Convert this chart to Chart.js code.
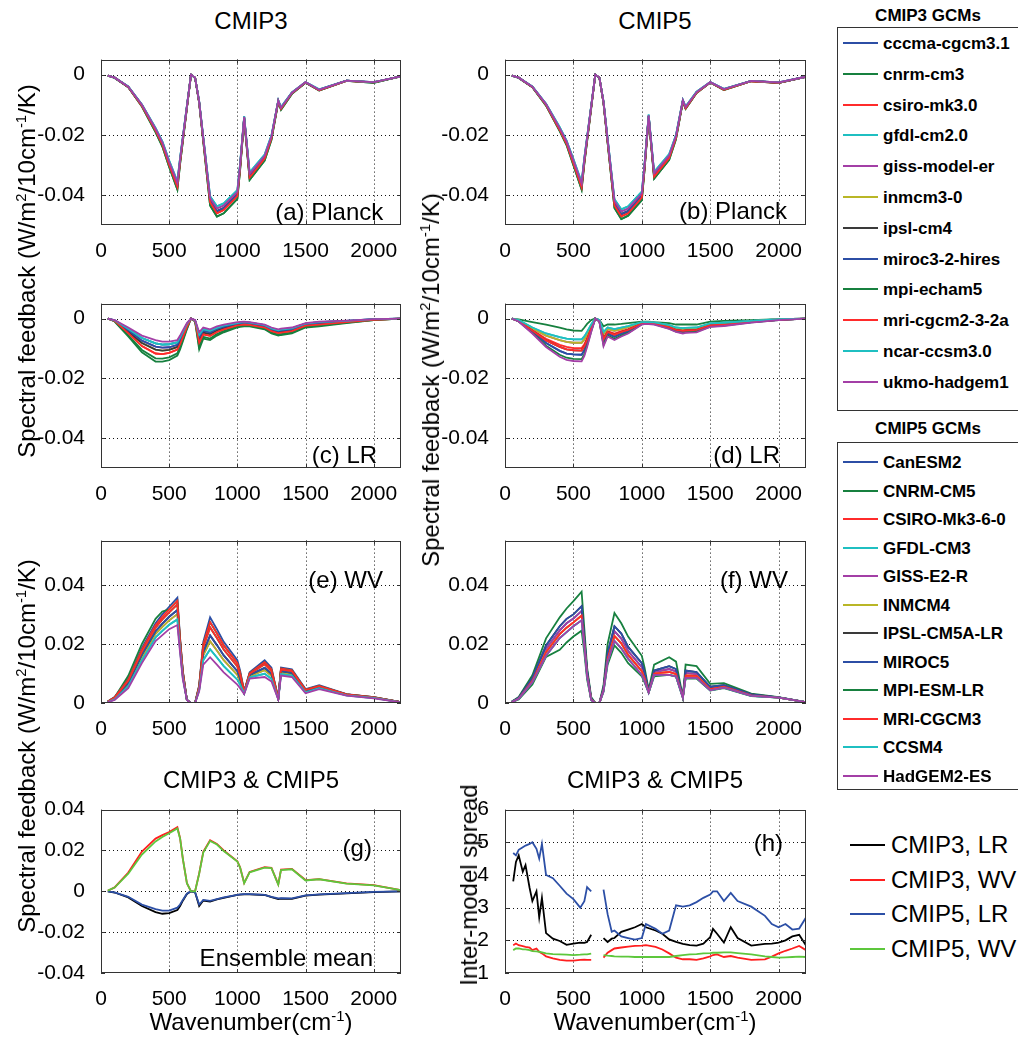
<!DOCTYPE html>
<html>
<head>
<meta charset="utf-8">
<script src="https://cdn.jsdelivr.net/npm/chart.js@4.4.0/dist/chart.umd.min.js"></script>
<style>
  body { margin: 0; background: #fff; }
  #fig { position: relative; width: 1018px; height: 1042px; overflow: hidden;
         font-family: "Liberation Sans", Arial, Helvetica, sans-serif; color: #000; }
  .txt { position: absolute; white-space: nowrap; transform: translate(-50%, -50%); font-size: 24px; line-height: 1; }
  .vt  { transform: translate(-50%, -50%) rotate(-90deg); }
  sup  { font-size: 62%; line-height: 0; vertical-align: 0.6em; }
  .box { position: absolute; border: 1px solid #333; background: #fff; }
  .lgl { position: absolute; height: 2px; }
  .lgt { position: absolute; white-space: nowrap; transform: translateY(-50%); line-height: 1; }
  .gcm { font-size: 17px; font-weight: bold; }
</style>
</head>
<body>
<div id="fig"></div>
<script>
'use strict';

/* ---------- data ---------- */

const wn = [50, 100, 200, 300, 400, 450, 500, 560, 580, 600, 630, 660, 690, 720, 750, 800,
            850, 900, 1000, 1020, 1050, 1090, 1200, 1250, 1300, 1320, 1400, 1500, 1600, 1800, 2000, 2200];

const xTicks = [0, 500, 1000, 1500, 2000];
const yTicksNeg = [-0.04, -0.02, 0];
const yTicksWv = [0, 0.02, 0.04];
const yTicksMean = [-0.04, -0.02, 0, 0.02, 0.04];
const yTicksSpread = [1, 2, 3, 4, 5, 6];

const cmip3Names = ['cccma-cgcm3.1', 'cnrm-cm3', 'csiro-mk3.0', 'gfdl-cm2.0', 'giss-model-er', 'inmcm3-0',
                    'ipsl-cm4', 'miroc3-2-hires', 'mpi-echam5', 'mri-cgcm2-3-2a', 'ncar-ccsm3.0', 'ukmo-hadgem1'];
const cmip5Names = ['CanESM2', 'CNRM-CM5', 'CSIRO-Mk3-6-0', 'GFDL-CM3', 'GISS-E2-R', 'INMCM4',
                    'IPSL-CM5A-LR', 'MIROC5', 'MPI-ESM-LR', 'MRI-CGCM3', 'CCSM4', 'HadGEM2-ES'];
const gcmColors = ['#2c4ea5', '#17803f', '#ff2b2b', '#1fbfc1', '#a33fa6', '#b9b626',
                   '#3a3a3a', '#2c4ea5', '#17803f', '#ff2b2b', '#1fbfc1', '#a33fa6'];

// (a) CMIP3 Planck
const pl3Top  = [-.0003,-.001,-.004,-.010,-.018,-.0225,-.029,-.036,-.028,-.021,-.0105,0,-.001,-.009,-.021,-.041,-.0445,-.0435,-.039,-.030,-.014,-.033,-.027,-.0205,-.0086,-.011,-.006,-.0025,-.005,-.002,-.0025,-.0006];
const pl3Cyan = [-.0003,-.001,-.0039,-.0099,-.0177,-.0222,-.0286,-.0355,-.0276,-.0207,-.0103,0,-.001,-.0089,-.0207,-.0404,-.0438,-.0428,-.0384,-.0296,-.0138,-.0325,-.0266,-.0202,-.0085,-.0108,-.0059,-.0025,-.0049,-.002,-.0025,-.0006];
const pl3Mid  = [-.0003,-.001,-.0041,-.0102,-.0184,-.023,-.0296,-.0367,-.0286,-.0214,-.0107,0,-.001,-.0092,-.0214,-.0418,-.0454,-.0444,-.0398,-.0306,-.0143,-.0337,-.0275,-.0209,-.0088,-.0112,-.0061,-.0026,-.0051,-.002,-.0026,-.0006];
const pl3Red  = [-.0003,-.001,-.0041,-.0104,-.0186,-.0233,-.030,-.0373,-.029,-.0217,-.0109,0,-.001,-.0093,-.0217,-.0424,-.0461,-.045,-.0404,-.0311,-.0145,-.0342,-.0279,-.0212,-.0089,-.0114,-.0062,-.0026,-.0052,-.0021,-.0026,-.0006];
const pl3Low  = [-.0003,-.0011,-.0042,-.0106,-.0191,-.0239,-.0307,-.0382,-.0297,-.0223,-.0111,0,-.0011,-.0095,-.0223,-.0435,-.0472,-.0461,-.0413,-.0318,-.0148,-.035,-.0286,-.0217,-.0091,-.0117,-.0064,-.0027,-.0053,-.0021,-.0027,-.0006];
const planck3 = [pl3Mid, pl3Low, pl3Red, pl3Cyan, pl3Top, pl3Mid, pl3Mid, pl3Mid, pl3Low, pl3Red, pl3Cyan, pl3Top];

// (b) CMIP5 Planck
const pl5Top  = [-.0003,-.001,-.004,-.0098,-.0178,-.0222,-.0285,-.0362,-.028,-.021,-.0105,0,-.001,-.009,-.0215,-.042,-.0455,-.0445,-.0395,-.030,-.0135,-.0328,-.0268,-.0203,-.0085,-.0108,-.0058,-.0025,-.0048,-.0021,-.0026,-.0007];
const pl5Cyan = [-.0003,-.001,-.0039,-.0097,-.0175,-.0219,-.0281,-.0357,-.0276,-.0207,-.0103,0,-.001,-.0089,-.0212,-.0414,-.0448,-.0438,-.0389,-.0296,-.0133,-.0323,-.0264,-.02,-.0084,-.0106,-.0057,-.0025,-.0047,-.0021,-.0026,-.0007];
const pl5Mid  = [-.0003,-.001,-.0041,-.01,-.0182,-.0226,-.0291,-.0369,-.0286,-.0214,-.0107,0,-.001,-.0092,-.0219,-.0428,-.0464,-.0454,-.0403,-.0306,-.0138,-.0335,-.0273,-.0207,-.0087,-.011,-.0059,-.0026,-.0049,-.0021,-.0027,-.0007];
const pl5Red  = [-.0003,-.001,-.0041,-.0101,-.0184,-.023,-.0295,-.0375,-.029,-.0217,-.0109,0,-.001,-.0093,-.0223,-.0435,-.0471,-.0461,-.0409,-.0311,-.014,-.0339,-.0277,-.021,-.0088,-.0112,-.006,-.0026,-.005,-.0022,-.0027,-.0007];
const pl5Low  = [-.0003,-.0011,-.0042,-.0103,-.0188,-.0234,-.0301,-.0382,-.0295,-.0222,-.0111,0,-.0011,-.0095,-.0227,-.0443,-.048,-.0469,-.0417,-.0317,-.0142,-.0346,-.0283,-.0214,-.009,-.0114,-.0061,-.0026,-.0051,-.0022,-.0027,-.0007];
const planck5 = [pl5Mid, pl5Low, pl5Red, pl5Cyan, pl5Top, pl5Mid, pl5Mid, pl5Mid, pl5Low, pl5Red, pl5Cyan, pl5Top];

// (c) CMIP3 lapse rate
const lr3T  = [0,-.0005,-.003,-.0057,-.0072,-.0077,-.0077,-.0072,-.0057,-.004,-.0015,0,-.0005,-.0046,-.003,-.0036,-.0026,-.002,-.0012,-.0011,-.001,-.0012,-.002,-.003,-.0036,-.0034,-.003,-.0015,-.001,-.0007,-.0002,0];
const lr3L1 = [0,-.0006,-.0035,-.0065,-.0083,-.0087,-.0086,-.008,-.0064,-.0046,-.0018,0,-.0006,-.0055,-.0036,-.0041,-.0031,-.0024,-.0015,-.0014,-.0012,-.0014,-.0022,-.0033,-.0039,-.0037,-.0033,-.0017,-.0012,-.0008,-.0002,0];
const lr3L2 = [0,-.0007,-.0039,-.0074,-.0094,-.0097,-.0096,-.0088,-.0071,-.0051,-.0021,0,-.0007,-.0063,-.0041,-.0047,-.0035,-.0028,-.0017,-.0016,-.0015,-.0016,-.0025,-.0036,-.0042,-.004,-.0036,-.002,-.0015,-.0009,-.0003,0];
const lr3L3 = [0,-.0007,-.0044,-.0082,-.0104,-.0107,-.0105,-.0095,-.0078,-.0057,-.0024,0,-.0007,-.0072,-.0047,-.0052,-.004,-.0032,-.002,-.0019,-.0017,-.0018,-.0027,-.0039,-.0045,-.0043,-.0039,-.0022,-.0017,-.001,-.0003,0];
const lr3L4 = [0,-.0008,-.0049,-.0092,-.0117,-.0119,-.0115,-.0104,-.0086,-.0063,-.0028,0,-.0008,-.0081,-.0053,-.0058,-.0045,-.0036,-.0023,-.0022,-.002,-.0021,-.003,-.0042,-.0049,-.0047,-.0042,-.0024,-.002,-.0012,-.0004,0];
const lr3L5 = [0,-.0009,-.0056,-.0105,-.0133,-.0134,-.013,-.0116,-.0096,-.0071,-.0033,0,-.0009,-.0094,-.0061,-.0067,-.0052,-.0042,-.0027,-.0025,-.0024,-.0024,-.0034,-.0047,-.0054,-.0052,-.0047,-.0028,-.0024,-.0014,-.0005,0];
const lr3B  = [0,-.001,-.006,-.0113,-.0144,-.0144,-.0139,-.0124,-.0103,-.0077,-.0036,0,-.001,-.0103,-.0067,-.0072,-.0057,-.0046,-.003,-.0028,-.0026,-.0026,-.0036,-.005,-.0057,-.0055,-.005,-.003,-.0026,-.0015,-.0005,0];
const lr3 = [lr3L1, lr3B, lr3L4, lr3L1, lr3L2, lr3L3, lr3L3, lr3L2, lr3L5, lr3L4, lr3L1, lr3T];

// (d) CMIP5 lapse rate
const lr5T  = [0,-.0003,-.0012,-.002,-.003,-.0036,-.004,-.0041,-.003,-.0018,-.0005,0,-.0005,-.0026,-.002,-.002,-.0018,-.0015,-.001,-.001,-.001,-.0012,-.0015,-.002,-.002,-.002,-.002,-.001,-.0008,-.0005,-.0002,0];
const lr5C  = [0,-.0005,-.003,-.005,-.0062,-.0067,-.007,-.007,-.006,-.0045,-.002,0,-.0005,-.0045,-.003,-.0035,-.003,-.0025,-.0012,-.0012,-.0012,-.0013,-.0022,-.003,-.0032,-.0031,-.003,-.0016,-.0014,-.0008,-.0002,0];
const lr5M1 = [0,-.0006,-.0033,-.0057,-.0072,-.0078,-.0081,-.0081,-.007,-.0053,-.0024,0,-.0006,-.0052,-.0035,-.0041,-.0035,-.0029,-.0013,-.0013,-.0013,-.0014,-.0024,-.0032,-.0035,-.0034,-.0032,-.0018,-.0016,-.0009,-.0002,0];
const lr5M2 = [0,-.0007,-.0038,-.0068,-.0088,-.0095,-.0099,-.0099,-.0086,-.0065,-.003,0,-.0007,-.0064,-.0042,-.005,-.0042,-.0035,-.0015,-.0015,-.0015,-.0016,-.0027,-.0036,-.0039,-.0038,-.0036,-.0021,-.0018,-.001,-.0003,0];
const lr5M3 = [0,-.0008,-.004,-.0073,-.0095,-.0103,-.0106,-.0107,-.0093,-.007,-.0033,0,-.0008,-.0069,-.0045,-.0054,-.0045,-.0038,-.0016,-.0016,-.0016,-.0017,-.0029,-.0038,-.0041,-.004,-.0038,-.0022,-.002,-.0011,-.0004,0];
const lr5M4 = [0,-.0009,-.0044,-.0082,-.0108,-.0117,-.012,-.0121,-.0106,-.008,-.0038,0,-.0009,-.0079,-.0051,-.0061,-.0051,-.0043,-.0018,-.0017,-.0017,-.0018,-.0031,-.0041,-.0045,-.0043,-.0041,-.0024,-.0022,-.0012,-.0004,0];
const lr5M5 = [0,-.001,-.0048,-.0091,-.0121,-.0131,-.0135,-.0136,-.0119,-.009,-.0043,0,-.001,-.0088,-.0057,-.0068,-.0057,-.0048,-.0019,-.0018,-.0018,-.0019,-.0034,-.0044,-.0048,-.0046,-.0044,-.0027,-.0024,-.0013,-.0005,0];
const lr5B  = [0,-.001,-.005,-.0095,-.0128,-.0138,-.0142,-.0143,-.0125,-.0095,-.0045,0,-.001,-.0093,-.006,-.0072,-.006,-.005,-.002,-.0019,-.0019,-.002,-.0035,-.0045,-.005,-.0048,-.0046,-.0028,-.0025,-.0014,-.0005,0];
const lr5 = [lr5M4, lr5T, lr5M2, lr5C, lr5M1, lr5M1, lr5M3, lr5M4, lr5M5, lr5M3, lr5C, lr5B];

// (e) CMIP3 water vapour
const wv3T  = [.0005,.002,.0083,.0187,.027,.030,.0326,.0357,.022,.011,.001,0,0,.006,.0207,.029,.025,.0207,.0145,.011,.004,.0104,.0145,.012,.0016,.012,.0114,.0047,.006,.003,.002,.0003];
const wv3G  = [.0005,.0019,.0092,.020,.0285,.031,.0317,.0346,.0214,.0106,.001,0,0,.0058,.0198,.0274,.0236,.0195,.0135,.0103,.0039,.0101,.0138,.0114,.0016,.0117,.0111,.0045,.0058,.0029,.002,.0003];
const wv3W5 = [.0005,.0019,.0079,.0181,.0263,.0292,.0317,.0346,.0214,.0106,.001,0,0,.0058,.0198,.0274,.0236,.0195,.0135,.0103,.0039,.0101,.0138,.0114,.0016,.0117,.0111,.0045,.0058,.0029,.002,.0003];
const wv3W4 = [.0005,.0018,.0075,.0174,.0255,.0283,.0307,.0334,.0208,.0103,.001,0,0,.0055,.0188,.0256,.022,.0181,.0124,.0095,.0038,.0099,.0131,.0108,.0015,.0113,.0108,.0044,.0057,.0029,.0019,.0003];
const wv3W3 = [.0004,.0016,.0068,.0164,.0243,.0269,.0292,.0315,.0198,.0097,.001,0,0,.0051,.0172,.0229,.0196,.0161,.0108,.0083,.0036,.0095,.0119,.0099,.0014,.0108,.0102,.0041,.0054,.0028,.0018,.0003];
const wv3W2 = [.0004,.0014,.0063,.0156,.0234,.0258,.028,.0301,.019,.0092,.001,0,0,.0048,.0161,.0209,.0178,.0145,.0095,.0074,.0034,.0091,.0111,.0092,.0014,.0104,.0098,.0039,.0052,.0027,.0018,.0002];
const wv3W1 = [.0003,.0012,.0057,.0145,.0222,.0244,.0265,.0283,.018,.0086,.001,0,0,.0044,.0145,.0182,.0154,.0125,.0079,.0062,.0032,.0087,.0099,.0082,.0013,.0098,.0093,.0036,.005,.0026,.0017,.0002];
const wv3B  = [.0003,.001,.005,.0135,.021,.023,.025,.0264,.017,.008,.001,0,0,.004,.013,.0155,.013,.0104,.0062,.005,.003,.0083,.0088,.0073,.0012,.0093,.0088,.0033,.0047,.0025,.0016,.0002];
const wv3 = [wv3T, wv3G, wv3W5, wv3W1, wv3W2, wv3W2, wv3W3, wv3W3, wv3W4, wv3W4, wv3W1, wv3B];

// (f) CMIP5 water vapour
const wv5G   = [.0005,.002,.0094,.0219,.029,.032,.0345,.0377,.025,.012,.002,0,0,.006,.020,.0305,.027,.0225,.016,.012,.0045,.013,.0155,.014,.002,.013,.0125,.0065,.0067,.0032,.002,.0003];
const wv5CT  = [.0004,.0018,.0085,.0195,.026,.0285,.030,.0328,.022,.011,.0015,0,0,.005,.017,.026,.0235,.019,.0135,.0105,.004,.011,.0125,.0115,.002,.011,.0105,.0055,.006,.0029,.0019,.0003];
const wv5CM2 = [.0004,.0017,.008,.0183,.0246,.027,.0286,.0312,.021,.0103,.0013,0,0,.0047,.016,.0243,.0218,.0176,.0121,.0095,.0038,.0105,.0115,.0107,.0019,.0102,.0098,.0051,.0057,.0027,.0019,.0003];
const wv5CM1 = [.0003,.0015,.0075,.0172,.0233,.0255,.0273,.0296,.020,.0097,.0012,0,0,.0043,.015,.0227,.0202,.0163,.0108,.0085,.0037,.010,.0105,.0098,.0019,.0093,.0092,.0047,.0055,.0026,.0018,.0003];
const wv5CB  = [.0003,.0014,.007,.016,.022,.024,.026,.028,.019,.009,.001,0,0,.004,.014,.021,.0185,.015,.0095,.0075,.0035,.0095,.0095,.009,.0018,.0085,.0085,.0043,.0052,.0024,.0018,.0003];
const wv5L   = [.0003,.0012,.0063,.0156,.018,.0205,.0225,.0245,.017,.008,.001,0,0,.0038,.013,.0195,.017,.0135,.009,.007,.0035,.009,.0095,.0089,.0018,.0083,.0083,.0042,.005,.0023,.0018,.0003];
const wv5 = [wv5CM2, wv5G, wv5CM1, wv5CB, wv5CM2, wv5CM1, wv5CT, wv5CT, wv5L, wv5CM1, wv5CB, wv5CB];

// (g) ensemble means
const lrMean3 = [0,-.0006,-.003,-.0072,-.0102,-.011,-.0107,-.0092,-.0072,-.0046,-.0013,0,-.0005,-.0072,-.0045,-.005,-.004,-.0032,-.0018,-.0016,-.0015,-.0015,-.0018,-.0029,-.0038,-.0036,-.0037,-.0021,-.0016,-.001,-.0004,0];
const wvMean3 = [.0003,.0019,.0092,.0195,.0258,.0275,.029,.0314,.026,.016,.004,0,0,.0088,.0193,.025,.0232,.020,.0147,.0117,.0041,.0095,.0118,.0115,.0034,.0106,.011,.0055,.006,.0039,.003,.0006];
const lrMean5 = [0,-.0005,-.0027,-.0065,-.0087,-.0095,-.0095,-.008,-.0065,-.0042,-.0012,0,-.0005,-.0065,-.0042,-.0047,-.0038,-.003,-.0017,-.0015,-.0014,-.0014,-.0017,-.0027,-.0035,-.0034,-.0035,-.002,-.0015,-.0009,-.0003,0];
const wvMean5 = [.0003,.0018,.0086,.018,.0244,.0266,.0284,.0308,.0259,.016,.004,0,0,.0086,.019,.0247,.0229,.0197,.0146,.0116,.004,.0093,.0116,.0113,.0033,.0104,.0108,.0053,.0059,.0038,.0029,.0006];

// (h) inter-model spread (gap in the CO2 band)
const wnSpread = [60, 80, 100, 130, 150, 180, 200, 230, 250, 270, 300, 350, 400, 450, 500, 550, 580, 600, 630, 675,
                  720, 750, 780, 800, 850, 900, 950, 1000, 1030, 1100, 1150, 1200, 1250, 1300, 1350, 1400, 1450, 1500,
                  1520, 1550, 1600, 1650, 1700, 1800, 1900, 1950, 2000, 2050, 2100, 2150, 2200];
const lrSpread3 = [3.8,4.4,4.6,4.1,4.3,3.6,3.2,3.5,2.7,3.3,2.22,2.05,1.98,1.86,1.9,1.93,1.92,1.95,2.17,null,2.07,1.95,2.05,2.07,2.26,2.33,2.4,2.5,2.4,2.3,2.2,2.03,1.95,1.89,1.85,1.84,1.9,2.1,2.35,2.2,1.93,2.4,2.07,1.84,1.89,1.9,1.93,2.0,2.12,2.17,1.84];
const wvSpread3 = [1.85,1.9,1.85,1.82,1.8,1.78,1.7,1.75,1.65,1.6,1.51,1.45,1.4,1.38,1.38,1.4,1.41,1.4,1.4,null,1.47,1.62,1.7,1.75,1.78,1.81,1.83,1.84,1.85,1.8,1.72,1.6,1.47,1.42,1.42,1.4,1.45,1.51,1.55,1.57,1.49,1.52,1.47,1.4,1.42,1.5,1.6,1.68,1.75,1.83,1.7];
const lrSpread5 = [4.67,4.6,4.77,4.85,4.9,4.95,5.0,4.8,4.5,4.95,4.0,3.9,3.67,3.43,3.26,3.0,3.2,3.63,3.5,null,3.55,2.8,2.26,2.3,2.12,2.07,2.02,2.07,2.5,2.35,2.2,2.3,3.07,3.03,3.07,3.17,3.3,3.4,3.5,3.5,3.2,3.45,3.2,3.03,2.75,2.5,2.4,2.5,2.33,2.36,2.7];
const wvSpread5 = [1.7,1.75,1.75,1.72,1.72,1.7,1.67,1.66,1.65,1.63,1.6,1.58,1.57,1.56,1.55,1.56,1.57,1.57,1.59,null,1.55,1.53,1.52,1.51,1.5,1.5,1.49,1.49,1.49,1.49,1.49,1.49,1.52,1.55,1.57,1.58,1.6,1.61,1.62,1.62,1.63,1.63,1.61,1.57,1.51,1.49,1.47,1.48,1.49,1.5,1.49];

const meanNames = ['CMIP3, LR', 'CMIP3, WV', 'CMIP5, LR', 'CMIP5, WV'];
const meanColors = ['#000000', '#ff1f1f', '#2c4fa6', '#5dc73c'];

/* ---------- layout ---------- */

const FONT = '"Liberation Sans", Arial, Helvetica, sans-serif';
const colLeft = [101, 505], colWidth = [300, 301];
const rowTop = [47, 291, 528, 797], rowHeight = [178, 177, 175, 176];
const PAD_L = 95, PAD_T = 8, PAD_R = 14, PAD_B = 40;
const fig = document.getElementById('fig');

const framePlugin = {
  id: 'frame',
  beforeDatasetsDraw(chart) {
    const { ctx, chartArea: a, scales: { x, y } } = chart;
    ctx.save();
    ctx.strokeStyle = '#111';
    ctx.lineWidth = 1;
    ctx.setLineDash([1, 3]);
    ctx.beginPath();
    x.ticks.forEach(t => {
      const px = Math.round(x.getPixelForValue(t.value)) + 0.5;
      if (px > a.left + 2 && px < a.right - 2) { ctx.moveTo(px, a.top); ctx.lineTo(px, a.bottom); }
    });
    y.ticks.forEach(t => {
      const py = Math.round(y.getPixelForValue(t.value)) + 0.5;
      if (py > a.top + 2 && py < a.bottom - 2) { ctx.moveTo(a.left, py); ctx.lineTo(a.right, py); }
    });
    ctx.stroke();
    ctx.restore();
  },
  afterDraw(chart, args, opts) {
    const { ctx, chartArea: a, scales: { x, y } } = chart;
    ctx.save();
    ctx.strokeStyle = '#333';
    ctx.lineWidth = 1;
    ctx.strokeRect(Math.round(a.left) + 0.5, Math.round(a.top) + 0.5,
                   Math.round(a.width) - 1, Math.round(a.height) - 1);
    ctx.beginPath();
    x.ticks.forEach(t => {
      const px = Math.round(x.getPixelForValue(t.value)) + 0.5;
      ctx.moveTo(px, a.bottom); ctx.lineTo(px, a.bottom - 4);
      ctx.moveTo(px, a.top); ctx.lineTo(px, a.top + 4);
    });
    y.ticks.forEach(t => {
      const py = Math.round(y.getPixelForValue(t.value)) + 0.5;
      ctx.moveTo(a.left, py); ctx.lineTo(a.left + 4, py);
      ctx.moveTo(a.right, py); ctx.lineTo(a.right - 4, py);
    });
    ctx.stroke();
    if (opts.text) {
      ctx.font = '24px ' + FONT;
      ctx.fillStyle = '#000';
      ctx.textAlign = 'right';
      ctx.textBaseline = 'middle';
      opts.text.forEach(t => ctx.fillText(t.s, x.getPixelForValue(t.x), y.getPixelForValue(t.y)));
    }
    ctx.restore();
  }
};

function makePanel(p) {
  const L = colLeft[p.col], T = rowTop[p.row], W = colWidth[p.col], H = rowHeight[p.row];
  const cv = document.createElement('canvas');
  cv.width = W + PAD_L + PAD_R;
  cv.height = H + PAD_T + PAD_B;
  cv.style.cssText = `position:absolute;left:${L - PAD_L}px;top:${T - PAD_T}px;width:${cv.width}px;height:${cv.height}px`;
  fig.appendChild(cv);
  const tickFont = { family: FONT, size: 21 };
  new Chart(cv, {
    type: 'line',
    data: {
      // later models are drawn on top, like the original plot order
      datasets: p.series.map((s, i) => ({
        label: p.names[i],
        data: s.map((v, j) => ({ x: p.x[j], y: v })),
        borderColor: p.colors[i],
        borderWidth: p.lw,
        pointRadius: 0,
        tension: 0,
        spanGaps: false,
        order: -i
      }))
    },
    options: {
      responsive: false,
      animation: false,
      devicePixelRatio: 1,
      events: [],
      layout: { padding: { left: 0, top: PAD_T, right: PAD_R, bottom: 0 } },
      plugins: { legend: { display: false }, tooltip: { enabled: false }, frame: { text: p.text } },
      scales: {
        x: {
          type: 'linear', min: 0, max: 2200,
          grid: { display: false }, border: { display: false },
          afterBuildTicks: sc => { sc.ticks = xTicks.map(v => ({ value: v })); },
          afterFit: sc => { sc.height = PAD_B; },
          ticks: { color: '#000', font: tickFont, padding: 6, maxRotation: 0, autoSkip: false,
                   callback: v => String(v) }
        },
        y: {
          type: 'linear', min: p.ymin, max: p.ymax,
          grid: { display: false }, border: { display: false },
          afterBuildTicks: sc => { sc.ticks = p.yTicks.map(v => ({ value: v })); },
          afterFit: sc => { sc.width = PAD_L; },
          ticks: { color: '#000', font: tickFont, padding: 8, autoSkip: false,
                   callback: v => String(v) }
        }
      }
    },
    plugins: [framePlugin]
  });
}

const panels = [
  { col: 0, row: 0, x: wn, series: planck3, names: cmip3Names, colors: gcmColors, lw: 1.8,
    ymin: -0.05, ymax: 0.005, yTicks: yTicksNeg, text: [{ s: '(a) Planck', x: 2070, y: -0.046 }] },
  { col: 1, row: 0, x: wn, series: planck5, names: cmip5Names, colors: gcmColors, lw: 1.8,
    ymin: -0.05, ymax: 0.005, yTicks: yTicksNeg, text: [{ s: '(b) Planck', x: 2062, y: -0.0458 }] },
  { col: 0, row: 1, x: wn, series: lr3, names: cmip3Names, colors: gcmColors, lw: 1.8,
    ymin: -0.05, ymax: 0.005, yTicks: yTicksNeg, text: [{ s: '(c) LR', x: 2025, y: -0.0462 }] },
  { col: 1, row: 1, x: wn, series: lr5, names: cmip5Names, colors: gcmColors, lw: 1.8,
    ymin: -0.05, ymax: 0.005, yTicks: yTicksNeg, text: [{ s: '(d) LR', x: 2010, y: -0.0462 }] },
  { col: 0, row: 2, x: wn, series: wv3, names: cmip3Names, colors: gcmColors, lw: 1.8,
    ymin: 0, ymax: 0.055, yTicks: yTicksWv, text: [{ s: '(e) WV', x: 2068, y: 0.0412 }] },
  { col: 1, row: 2, x: wn, series: wv5, names: cmip5Names, colors: gcmColors, lw: 1.8,
    ymin: 0, ymax: 0.055, yTicks: yTicksWv, text: [{ s: '(f) WV', x: 2068, y: 0.0412 }] },
  { col: 0, row: 3, x: wn, series: [lrMean3, wvMean3, lrMean5, wvMean5], names: meanNames, colors: meanColors, lw: 1.8,
    ymin: -0.04, ymax: 0.04, yTicks: yTicksMean,
    text: [{ s: '(g)', x: 1987, y: 0.0205 }, { s: 'Ensemble mean', x: 1995, y: -0.0332 }] },
  { col: 1, row: 3, x: wnSpread, series: [lrSpread3, wvSpread3, lrSpread5, wvSpread5], names: meanNames, colors: meanColors, lw: 1.8,
    ymin: 1, ymax: 6, yTicks: yTicksSpread, text: [{ s: '(h)', x: 2032, y: 4.95 }] }
];
panels.forEach(makePanel);

/* ---------- titles, axis labels ---------- */

function addText(html, x, y, extra) {
  const d = document.createElement('div');
  d.className = 'txt' + (extra ? ' ' + extra : '');
  d.style.left = x + 'px';
  d.style.top = y + 'px';
  d.innerHTML = html;
  fig.appendChild(d);
}
const yLab = 'Spectral feedback (W/m<sup>2</sup>/10cm<sup>-1</sup>/K)';
const xLab = 'Wavenumber(cm<sup>-1</sup>)';
addText('CMIP3', 251, 21);
addText('CMIP5', 655, 21);
addText('CMIP3 &amp; CMIP5', 251, 780);
addText('CMIP3 &amp; CMIP5', 655, 780);
addText(yLab, 27, 271, 'vt');
addText(yLab, 431, 380, 'vt');
addText(yLab, 27, 746, 'vt');
addText('Inter-model spread', 469, 885, 'vt');
addText(xLab, 251, 1022);
addText(xLab, 655, 1022);

/* ---------- legends ---------- */

function addLegend(title, names, colors, titleY, boxTop, boxH, y0, dy) {
  const box = document.createElement('div');
  box.className = 'box';
  box.style.cssText = `left:837px;top:${boxTop}px;width:220px;height:${boxH}px`;
  fig.appendChild(box);
  addText(title, 928, titleY, 'gcm');
  names.forEach((n, i) => {
    const y = y0 + i * dy;
    const ln = document.createElement('div');
    ln.className = 'lgl';
    ln.style.cssText = `left:843px;top:${y - 1}px;width:35px;background:${colors[i]}`;
    fig.appendChild(ln);
    const t = document.createElement('div');
    t.className = 'lgt gcm';
    t.style.cssText = `left:883px;top:${y}px`;
    t.textContent = n;
    fig.appendChild(t);
  });
}
addLegend('CMIP3 GCMs', cmip3Names, gcmColors, 15, 27, 382, 43, 30.8);
addLegend('CMIP5 GCMs', cmip5Names, gcmColors, 428, 442, 346, 462, 28.5);

meanNames.forEach((n, i) => {
  const y = 845 + i * 34.5;
  const ln = document.createElement('div');
  ln.className = 'lgl';
  ln.style.cssText = `left:850px;top:${y - 1}px;width:35px;background:${meanColors[i]}`;
  fig.appendChild(ln);
  const t = document.createElement('div');
  t.className = 'lgt';
  t.style.cssText = `left:891px;top:${y}px;font-size:24px`;
  t.textContent = n;
  fig.appendChild(t);
});
</script>
</body>
</html>
